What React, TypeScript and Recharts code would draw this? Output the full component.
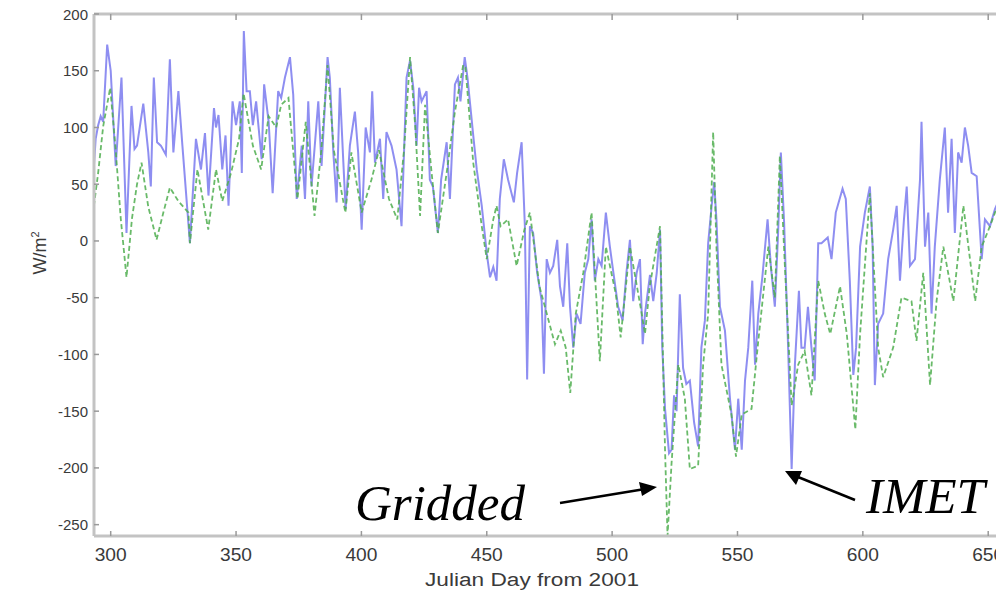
import React from "react";
import { LineChart, Line, XAxis, YAxis } from "recharts";

const xTicks = [300, 350, 400, 450, 500, 550, 600, 650];
const yTicks = [200, 150, 100, 50, 0, -50, -100, -150, -200, -250];

const imetDays = [
  293.3, 294, 295, 296, 297, 298.6, 300, 302, 304.3, 306.3, 308.3, 309.5, 310.5, 313, 315, 316, 317.2, 318.5, 320, 322,
  323.6, 325, 327, 328.6, 331.6, 334, 336, 337.6, 339, 341.2, 342, 343, 344.5, 345.8, 347, 348.6, 350, 351.5, 352.3, 353.1,
  354.2, 355.5, 356.7, 358, 360.2, 361.2, 363, 364.6, 366.8, 368, 369.5, 371.5, 372.8, 374.2, 376.2, 377.5, 378.8, 380.1, 382.8, 384.1,
  386.5, 387.4, 388.8, 390.1, 391.4, 392.8, 393.7, 395.4, 397.4, 398.7, 400.1, 401.7, 403.4, 404.3, 405.4, 407.4, 408.7, 410, 412, 414,
  416, 418, 419.4, 420.7, 422, 423, 424, 426, 427.3, 428.5, 430.5, 431.8, 434, 435.3, 437.3, 438.5, 439.5, 441.2, 442.3, 444.6,
  446, 448, 450, 451.3, 452.6, 453.9, 455.2, 456.8, 458.5, 460.8, 462.1, 463.9, 465.2, 466.1, 467.2, 468.5, 470.1, 471.9, 472.8, 473.9,
  475.2, 476.5, 478.1, 479.2, 480.5, 482.1, 483.2, 484.5, 485.8, 487.4, 489.1, 490.5, 491.8, 493.1, 494.5, 495.8, 497.5, 499.1, 500.5, 502.4,
  504.2, 505.7, 507.1, 508.4, 509.8, 511.1, 512.2, 513.1, 515.1, 516.4, 517.8, 519.1, 520, 521.1, 522.7, 523.7, 524.7, 525.7, 527, 528.3,
  529.6, 531, 532.7, 534.3, 535.6, 537, 538.3, 539.7, 540.7, 541.6, 543, 545, 547, 549, 550.3, 551.7, 553, 554.3, 555.9, 557,
  558.3, 559.9, 562, 563.3, 564.9, 566.2, 567.3, 568.6, 570.2, 571.6, 572.9, 574.5, 575.5, 576.8, 578.1, 579.5, 580.8, 582.2, 583.5, 586,
  587.5, 589.2, 591.9, 593.2, 594.8, 596.2, 597.3, 598.9, 600.8, 602.8, 603.9, 604.8, 606.1, 608.1, 610.1, 612.1, 613.5, 614.8, 616.4, 617.5,
  618.8, 620.8, 622.8, 623.4, 624.8, 626.1, 627.4, 628.7, 630.7, 632.7, 634, 635.4, 636.7, 638, 639.4, 640.7, 642, 643.4, 645.4, 647.4,
  648.7, 650.7, 652.7, 655,
];
const imetValues = [
  66, 90, 102, 110, 105, 173, 150, 66, 144, 7, 119, 81, 84, 121, 78, 48, 144, 87, 84, 76,
  160, 78, 132, 84, -2, 90, 63, 95, 40, 117, 100, 111, 63, 93, 31, 123, 102, 123, 60, 185,
  132, 132, 102, 123, 72, 138, 105, 42, 132, 126, 144, 162, 129, 37, 84, 37, 123, 48, 123, 66,
  162, 144, 78, 34, 135, 69, 28, 84, 114, 78, 10, 100, 78, 132, 69, 90, 37, 96, 84, 63,
  13, 144, 159, 135, 84, 135, 123, 132, 54, 48, 7, 54, 87, 37, 138, 144, 123, 162, 144, 93,
  63, 31, -11, -32, -23, -35, 37, 72, 54, 34, 60, 87, 13, -122, 13, 7, -28, -53, -117, -16,
  -28, -22, 1, -40, -58, -2, -58, -94, -64, -73, -28, -16, 19, -35, -16, -22, 25, -5, -28, -58,
  -70, -28, 1, -53, -28, -16, -91, -64, -30, -53, -28, 10, -94, -148, -187, -184, -136, -150, -47, -112,
  -126, -123, -160, -181, -94, -70, -2, 31, 52, 19, -58, -79, -139, -184, -139, -184, -123, -94, -35, -109,
  -64, -32, 19, -22, -58, 7, 78, 16, -94, -201, -109, -44, -94, -94, -58, -94, -123, -2, -2, 3,
  -16, 25, 46, 37, -35, -118, -94, -5, 25, 48, -5, -127, -73, -64, -16, 10, 31, -35, 19, 48,
  -22, -16, 54, 105, -5, 25, -64, -5, 54, 100, 25, 90, 7, 78, 69, 100, 84, 60, 57, -16,
  19, 13, 28, 40,
];

const gridDays = [
  293.3, 295, 297, 299.8, 302, 304, 306.3, 308.5, 310.5, 312.3, 315, 318.3, 321, 323.6, 327, 331, 331.6, 334.6, 338.9, 342,
  344.5, 348, 351.2, 353, 356.7, 360, 363, 366, 368, 370.9, 374.5, 377.8, 381.3, 384, 386.5, 389, 393.6, 396, 400.1, 404,
  407, 411, 414.3, 417, 419.4, 421.5, 423.4, 425.4, 428, 430.5, 434, 437.3, 440.6, 441.5, 444.6, 448, 450, 452.6, 453.9, 455.5,
  458.5, 461.9, 465, 467.2, 471, 477.2, 479.5, 481.5, 483.3, 485.5, 488.5, 491.8, 495.1, 497.5, 501.5, 503.4, 507.1, 511.8, 513.1, 515,
  519.1, 521.1, 522.1, 523.7, 526.4, 529, 531, 534.3, 536.3, 538.3, 540.3, 541.6, 543.6, 547.6, 549.4, 551.7, 555.6, 558.3, 562.3, 564.9,
  566.9, 568.9, 571.6, 574.2, 576.8, 579.5, 582.2, 584.8, 587, 590.9, 593.6, 597, 598.9, 602.8, 606.1, 608.1, 612.1, 615.4, 619.4, 621.4,
  624.1, 626.8, 629.4, 632.1, 636.1, 640.1, 644.8, 647.4, 650.7, 652.7, 655,
];
const gridValues = [
  31, 60, 101, 135, 80, 20, -32, 20, 50, 69, 30, 1, 25, 47, 35, 25, -2, 63, 10, 63,
  35, 60, 90, 130, 84, 63, 110, 100, 120, 126, 37, 105, 22, 80, 155, 80, 25, 78, 25, 54,
  80, 37, 19, 80, 162, 100, 22, 120, 60, 7, 60, 114, 155, 153, 69, 13, -16, 19, 31, 13,
  19, -22, 10, 25, -40, -91, -79, -94, -134, -64, -28, 25, -106, -5, -47, -85, -5, -64, -82, -40,
  13, -184, -260, -196, -109, -139, -201, -198, -109, -64, 96, -5, -109, -153, -190, -153, -148, -88, -5, -50,
  75, -22, -145, -109, -97, -136, -35, -64, -82, -40, -82, -166, -82, 42, -94, -120, -94, -50, -53, -88,
  -28, -127, -53, -5, -53, 31, -53, -5, 13, 25, 35,
];

const imetData = imetDays.map((d, i) => ({ d, v: imetValues[i] }));
const gridData = gridDays.map((d, i) => ({ d, v: gridValues[i] }));

const FONT = '"Liberation Sans", Arial, sans-serif';
const FRAME = "#c3c3c3";
const TICK = "#9a9a9a";

const BottomTick = (props: any) => {
  const { x, y, payload } = props;
  return (
    <g>
      <line x1={x} x2={x} y1={y} y2={y - 5} stroke={TICK} strokeWidth={1.5} />
      <text
        x={x}
        y={y + 25}
        textAnchor="middle"
        fontFamily={FONT}
        fontSize={18}
        fill="#3a3a3a"
        textLength={32}
        lengthAdjust="spacingAndGlyphs"
      >
        {payload.value}
      </text>
    </g>
  );
};

const TopTick = (props: any) => {
  const { x, y } = props;
  return <line x1={x} x2={x} y1={y} y2={y + 6} stroke={TICK} strokeWidth={1.5} />;
};

const LeftTick = (props: any) => {
  const { x, y, payload } = props;
  return (
    <g>
      <line x1={x} x2={x + 5} y1={y} y2={y} stroke={TICK} strokeWidth={1.5} />
      <text x={x - 6} y={y + 5.5} textAnchor="end" fontFamily={FONT} fontSize={15} fill="#3a3a3a">
        {payload.value}
      </text>
    </g>
  );
};

export default function App() {
  return (
    <div style={{ position: "absolute", left: 0, top: 0, width: 996, height: 593, overflow: "hidden", background: "#fff" }}>
      <LineChart width={1010} height={593} margin={{ top: 13, right: 6, bottom: 0, left: 0 }}>
        <XAxis
          dataKey="d"
          type="number"
          domain={[293.34, 656.3]}
          allowDataOverflow
          ticks={xTicks}
          height={57}
          tickSize={0}
          tickMargin={0}
          tickLine={false}
          axisLine={{ stroke: FRAME, strokeWidth: 3 }}
          tick={<BottomTick />}
          interval={0}
        />
        <XAxis
          xAxisId="top"
          orientation="top"
          dataKey="d"
          type="number"
          domain={[293.34, 656.3]}
          allowDataOverflow
          ticks={xTicks}
          height={1}
          tickSize={0}
          tickMargin={0}
          tickLine={false}
          axisLine={{ stroke: FRAME, strokeWidth: 3 }}
          tick={<TopTick />}
          interval={0}
        />
        <YAxis
          type="number"
          domain={[-260, 200]}
          allowDataOverflow
          ticks={yTicks}
          width={94}
          tickSize={0}
          tickMargin={0}
          tickLine={false}
          axisLine={{ stroke: FRAME, strokeWidth: 3 }}
          tick={<LeftTick />}
          interval={0}
        />
        <Line
          data={imetData}
          dataKey="v"
          type="linear"
          stroke="#7a7aee"
          strokeOpacity={0.85}
          strokeWidth={2}
          dot={false}
          isAnimationActive={false}
        />
        <Line
          data={gridData}
          dataKey="v"
          type="linear"
          stroke="#4fae4f"
          strokeOpacity={0.85}
          strokeWidth={1.8}
          strokeDasharray="5 3"
          dot={false}
          isAnimationActive={false}
        />
      </LineChart>
      <svg
        width={996}
        height={593}
        style={{ position: "absolute", left: 0, top: 0, pointerEvents: "none" }}
      >
        <text
          x={532}
          y={586}
          textAnchor="middle"
          fontFamily={FONT}
          fontSize={18}
          fill="#3a3a3a"
          textLength={214}
          lengthAdjust="spacingAndGlyphs"
        >
          Julian Day from 2001
        </text>
        <text
          x={46}
          y={253}
          textAnchor="middle"
          fontFamily={FONT}
          fontSize={18}
          fill="#3a3a3a"
          transform="rotate(-90 46 253)"
        >
          W/m<tspan dy={-7} fontSize={11}>2</tspan>
        </text>
        <text x={355} y={520} fontFamily='"Liberation Serif", "Times New Roman", serif' fontStyle="italic" fontSize={51} fill="#000">
          Gridded
        </text>
        <text x={866} y={513} fontFamily='"Liberation Serif", "Times New Roman", serif' fontStyle="italic" fontSize={51} fill="#000">
          IMET
        </text>
        <line x1={560} y1={503} x2={642} y2={489.5} stroke="#000" strokeWidth={2.5} />
        <polygon points="657,487 639,482 642,496" fill="#000" />
        <line x1={855} y1={500} x2={798} y2={477} stroke="#000" strokeWidth={2.5} />
        <polygon points="785,471 796,485 802,471" fill="#000" />
      </svg>
    </div>
  );
}
